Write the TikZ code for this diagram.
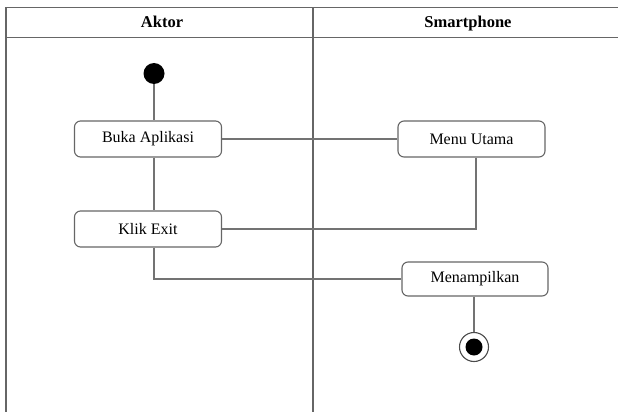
\documentclass[tikz,border=0pt]{standalone}
\usepackage{fontspec}
\setmainfont{Liberation Serif}
\begin{document}
\begin{tikzpicture}[x=1pt,y=-1pt,
  frameline/.style={draw=black!60,line width=1.4pt},
  flowline/.style={draw=black!55,line width=1.3pt},
  actbox/.style={draw=black!60,line width=1.1pt,rounded corners=6pt,fill=white,
    minimum width=147pt,minimum height=36pt,inner sep=0pt,font=\fontsize{16}{18}\selectfont},
  header/.style={font=\bfseries\fontsize{16.5}{18}\selectfont,inner sep=0pt,anchor=base}]
\useasboundingbox (0,0) rectangle (618,412);
% swimlane frame
\coordinate (tl) at (6,7.5);
\coordinate (tr) at (618,7.5);
\coordinate (hl) at (6,37.5);
\coordinate (hr) at (618,37.5);
\coordinate (bl) at (6,412);
\coordinate (dt) at (313,7.5);
\coordinate (db) at (313,412);
\draw[frameline] (tl) -- (tr);
\draw[frameline] (hl) -- (hr);
\draw[frameline] (tl) -- (bl);
\draw[frameline] (dt) -- (db);
\node[header] (h1) at (162,27.5) {Aktor};
\node[header] (h2) at (468,27.5) {Smartphone};
% nodes
\node[circle,fill=black,minimum size=21pt,inner sep=0pt] (start) at (154,73.5) {};
\node[actbox] (buka) at (148,139) {Buka Aplikasi};
\node[actbox] (klik) at (148,229) {Klik Exit};
\node[actbox] (menu) at (471.5,139) {Menu Utama};
\node[actbox,minimum width=146pt,minimum height=34pt] (tampil) at (475,279) {Menampilkan};
\node[circle,draw=black!70,line width=1.1pt,fill=white,minimum size=29pt,inner sep=0pt] (end) at (474,347) {};
\node[circle,fill=black,minimum size=17pt,inner sep=0pt] (endin) at (end) {};
% connectors
\draw[flowline] (start.south) -- (start.south |- buka.north);
\draw[flowline] (buka.east) -- (menu.west);
\draw[flowline] (buka.south -| start) -- (klik.north -| start);
\draw[flowline] (menu.south -| 476,0) -- (476,229) -- (klik.east);
\draw[flowline] (klik.south -| start) -- (154,279) -- (tampil.west);
\draw[flowline] (tampil.south -| end) -- (end.north);
\end{tikzpicture}
\end{document}
